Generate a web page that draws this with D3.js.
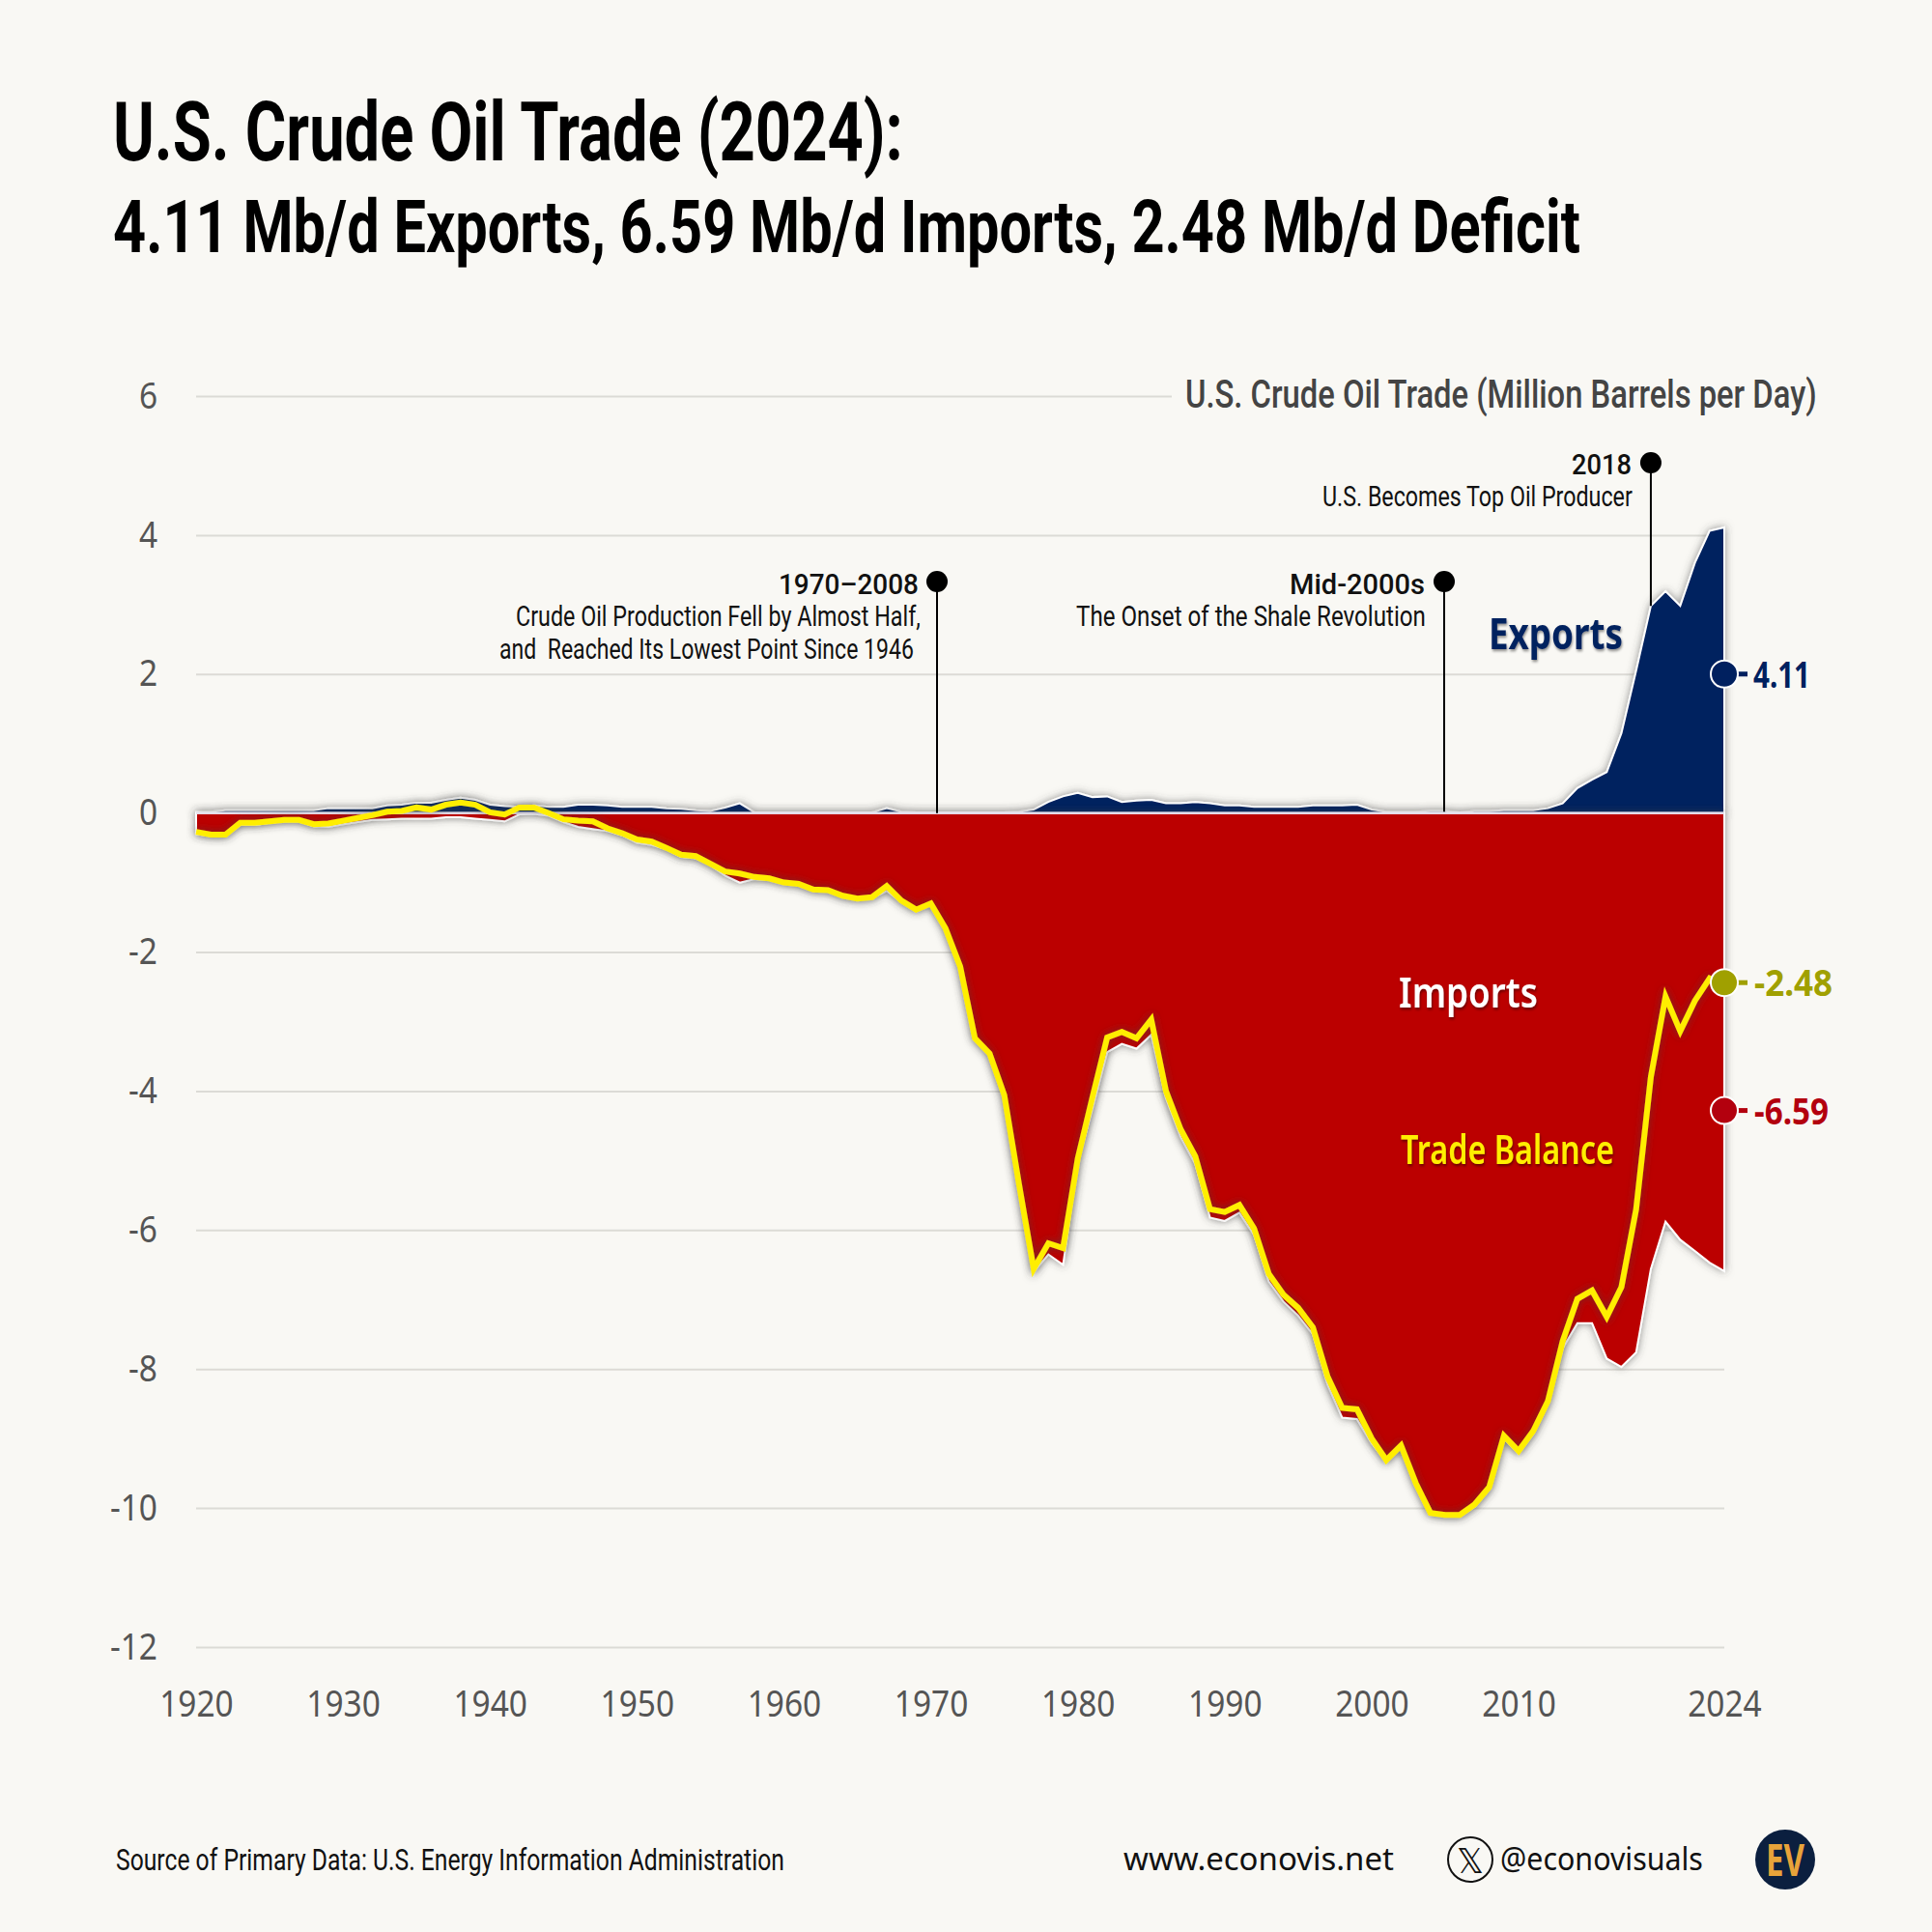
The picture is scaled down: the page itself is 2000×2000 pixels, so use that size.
<!DOCTYPE html>
<html>
<head>
<meta charset="utf-8">
<script src="https://cdn.jsdelivr.net/npm/d3@7"></script>
<style>
  html, body { margin: 0; padding: 0; background: #f9f8f4; }
  svg { display: block; }
</style>
</head>
<body>
<div id="chart"></div>
<script>
// Values (million barrels per day)
var years = d3.range(1920, 2025);
var exportsVals = [
  .02,.02,.04,.04,.04,.04,.04,.04,.04,.07,
  .07,.07,.07,.11,.12,.15,.15,.19,.22,.19,
  .12,.10,.09,.11,.09,.09,.12,.12,.11,.09,
  .09,.09,.07,.06,.04,.03,.08,.14,.01,.01,
  .01,.01,.01,.01,.01,.01,.01,.07,.02,.01,
  .01,.01,.01,.01,.01,.01,.02,.05,.16,.24,
  .29,.23,.24,.16,.18,.19,.14,.14,.16,.14,
  .11,.11,.09,.09,.09,.09,.11,.11,.11,.12,
  .05,.02,.02,.02,.03,.03,.01,.03,.03,.04,
  .04,.04,.07,.14,.36,.48,.59,1.15,2.05,2.98,
  3.19,2.98,3.6,4.06,4.11
];
var importsVals = [
  -.30,-.33,-.33,-.17,-.17,-.14,-.12,-.12,-.19,-.20,
  -.16,-.13,-.10,-.09,-.08,-.08,-.08,-.06,-.06,-.08,
  -.10,-.12,-.02,-.01,-.04,-.13,-.20,-.23,-.26,-.32,
  -.43,-.46,-.52,-.63,-.65,-.75,-.90,-1.00,-.95,-.96,
  -1.01,-1.04,-1.12,-1.13,-1.21,-1.24,-1.22,-1.12,-1.28,-1.40,
  -1.31,-1.67,-2.22,-3.25,-3.48,-4.10,-5.37,-6.60,-6.35,-6.50,
  -5.03,-4.25,-3.44,-3.32,-3.39,-3.19,-4.10,-4.66,-5.05,-5.82,
  -5.87,-5.75,-6.07,-6.74,-7.03,-7.23,-7.5,-8.22,-8.70,-8.72,
  -9.07,-9.33,-9.13,-9.66,-10.09,-10.12,-10.12,-9.98,-9.73,-9.00,
  -9.21,-8.93,-8.49,-7.7,-7.34,-7.34,-7.85,-7.97,-7.76,-6.56,
  -5.88,-6.14,-6.30,-6.47,-6.59
];
var balanceVals = [
  -.27,-.31,-.31,-.14,-.14,-.12,-.10,-.10,-.16,-.15,
  -.11,-.07,-.03,.02,.03,.08,.05,.12,.15,.12,
  .01,-.02,.08,.08,0,-.09,-.11,-.12,-.22,-.29,
  -.38,-.41,-.50,-.60,-.62,-.73,-.84,-.87,-.92,-.94,
  -1.0,-1.02,-1.10,-1.11,-1.19,-1.23,-1.21,-1.05,-1.26,-1.39,
  -1.30,-1.66,-2.21,-3.24,-3.46,-4.06,-5.34,-6.56,-6.19,-6.26,
  -4.97,-4.09,-3.23,-3.15,-3.24,-2.97,-4.0,-4.55,-4.94,-5.70,
  -5.74,-5.64,-5.98,-6.63,-6.93,-7.12,-7.4,-8.11,-8.56,-8.58,
  -9.0,-9.31,-9.10,-9.64,-10.07,-10.10,-10.10,-9.95,-9.70,-8.96,
  -9.18,-8.89,-8.46,-7.6,-6.99,-6.87,-7.25,-6.82,-5.7,-3.8,
  -2.64,-3.14,-2.70,-2.38,-2.48
];
var yTicks = [6, 4, 2, 0, -2, -4, -6, -8, -10, -12];
var xTicks = [1920, 1930, 1940, 1950, 1960, 1970, 1980, 1990, 2000, 2010, 2024];

var navy = "#00205f", red = "#bb0000", yellow = "#ffee00", olive = "#a0a000";
var narrow = "'Roboto', sans-serif";
var body = "'Noto Sans', 'Open Sans', sans-serif";

var svg = d3.select("#chart").append("svg").attr("width", 2000).attr("height", 2000);
svg.append("rect").attr("width", 2000).attr("height", 2000).attr("fill", "#f9f8f4");

var defs = svg.append("defs");
var glow = defs.append("filter").attr("id", "shadow")
  .attr("x", "-5%").attr("y", "-5%").attr("width", "110%").attr("height", "110%");
glow.append("feDropShadow").attr("dx", 0).attr("dy", 0).attr("stdDeviation", 4)
  .attr("flood-color", "#444").attr("flood-opacity", 0.6);
var textGlow = defs.append("filter").attr("id", "textShadow");
textGlow.append("feDropShadow").attr("dx", 1).attr("dy", 2).attr("stdDeviation", 1.5)
  .attr("flood-color", "#000").attr("flood-opacity", 0.45);

var x = d3.scaleLinear().domain([1920, 2024]).range([203, 1785]);
var y = d3.scaleLinear().domain([6, -12]).range([410, 1705]);

// text helper, squeezes horizontally to the measured width of the reference
function label(txt, left, right, base, size, opts) {
  opts = opts || {};
  var t = svg.append("text")
    .attr("font-family", opts.font || narrow)
    .attr("font-size", size)
    .attr("font-weight", opts.weight || 400)
    .attr("fill", opts.fill || "#111")
    .attr("xml:space", "preserve")
    .text(txt);
  var sx = (right - left) / t.node().getComputedTextLength();
  t.attr("transform", "translate(" + left + "," + base + ") scale(" + sx + ",1)");
  if (opts.filter) t.attr("filter", opts.filter);
  return t;
}

// grid and axes
var yAxis = d3.axisLeft(y).tickValues(yTicks).tickFormat(d => String(d)).tickSize(0).tickPadding(0);
var yg = svg.append("g").attr("transform", "translate(163,0)").call(yAxis);
yg.select(".domain").remove();
yg.selectAll("text").attr("font-family", body).attr("font-size", 38).attr("fill", "#555")
  .attr("transform", "scale(0.88,1)");

var grid = d3.axisLeft(y).tickValues(yTicks).tickSize(-(x.range()[1] - x.range()[0])).tickFormat("");
var gg = svg.append("g").attr("transform", "translate(203,0)").call(grid);
gg.select(".domain").remove();
gg.selectAll("line").attr("stroke", "#dcdbd6").attr("stroke-width", 2);
gg.selectAll(".tick").filter(d => d === 6).select("line").attr("x2", 1010);

var xAxis = d3.axisBottom(x).tickValues(xTicks).tickFormat(d3.format("d")).tickSize(0).tickPadding(0);
var xg = svg.append("g").attr("transform", "translate(0,1750)").call(xAxis);
xg.select(".domain").remove();
xg.selectAll("text").attr("font-family", body).attr("font-size", 38).attr("fill", "#555")
  .attr("transform", "scale(0.88,1)");

// areas
var valueArea = d3.area().x((d, i) => x(years[i])).y0(y(0)).y1(d => y(d));
svg.append("path").datum(exportsVals).attr("d", valueArea)
  .attr("fill", navy).attr("stroke", "#fff").attr("stroke-width", 2).attr("filter", "url(#shadow)");
svg.append("path").datum(importsVals).attr("d", valueArea)
  .attr("fill", red).attr("stroke", "#fff").attr("stroke-width", 2).attr("filter", "url(#shadow)");
svg.append("line").attr("x1", x(1920)).attr("x2", x(2024)).attr("y1", y(0)).attr("y2", y(0))
  .attr("stroke", "#e4e0ee").attr("stroke-width", 2);

var balanceLine = d3.line().x((d, i) => x(years[i])).y(d => y(d));
svg.append("path").datum(balanceVals).attr("d", balanceLine)
  .attr("fill", "none").attr("stroke", yellow).attr("stroke-width", 6)
  .attr("stroke-linejoin", "miter").attr("filter", "url(#shadow)");

// title
label("U.S. Crude Oil Trade (2024):", 117, 935, 166, 86, { weight: 700, fill: "#000" });
label("4.11 Mb/d Exports, 6.59 Mb/d Imports, 2.48 Mb/d Deficit", 117, 1636, 261, 76, { weight: 700, fill: "#000" });
label("U.S. Crude Oil Trade (Million Barrels per Day)", 1227, 1881, 422, 40, { fill: "#444", weight: 500 });

// annotations
function pin(px, dotY, endY) {
  svg.append("line").attr("x1", px).attr("x2", px).attr("y1", dotY).attr("y2", endY)
    .attr("stroke", "#000").attr("stroke-width", 2);
  svg.append("circle").attr("cx", px).attr("cy", dotY).attr("r", 11).attr("fill", "#000");
}
pin(x(2019), 479, y(2.98));
pin(970, 602, y(0));
pin(1495, 602, y(0.02));

label("2018", 1627, 1689, 491, 30, { weight: 500 });
label("U.S. Becomes Top Oil Producer", 1369, 1690, 524, 29);
label("1970–2008", 806, 951, 615, 30, { weight: 500 });
label("Crude Oil Production Fell by Almost Half,", 534, 953, 648, 29);
label("and  Reached Its Lowest Point Since 1946", 517, 946, 682, 29);
label("Mid-2000s", 1335, 1475, 615, 30, { weight: 500 });
label("The Onset of the Shale Revolution", 1114, 1476, 648, 29);

// series names
label("Exports", 1541, 1680, 672, 44, { font: body, weight: 700, fill: navy, filter: "url(#textShadow)" });
label("Imports", 1448, 1592, 1043, 44, { font: body, weight: 600, fill: "#fff", filter: "url(#textShadow)" });
label("Trade Balance", 1450, 1671, 1205, 42, { font: body, weight: 600, fill: yellow, filter: "url(#textShadow)" });

// end value callouts
function callout(txt, dotVal, col, left, right) {
  var cy = y(dotVal);
  svg.append("line").attr("x1", x(2024)).attr("x2", 1809).attr("y1", cy).attr("y2", cy)
    .attr("stroke", col).attr("stroke-width", 5);
  svg.append("circle").attr("cx", x(2024)).attr("cy", cy).attr("r", 14)
    .attr("fill", col).attr("stroke", "#fff").attr("stroke-width", 2);
  label(txt, left, right, cy + 14, 38, { font: body, weight: 700, fill: col });
}
callout("4.11", 2, navy, 1815, 1874);
callout("-2.48", balanceVals[104] + 0.04, olive, 1816, 1897);
callout("-6.59", -4.28, "#b3000e", 1816, 1893);

// footer
label("Source of Primary Data: U.S. Energy Information Administration", 120, 812, 1936, 31);
label("www.econovis.net", 1163, 1443, 1936, 33, { font: body });
svg.append("circle").attr("cx", 1522).attr("cy", 1925).attr("r", 23)
  .attr("fill", "none").attr("stroke", "#111").attr("stroke-width", 2);
label("𝕏", 1508, 1536, 1939, 36, { font: "'DejaVu Sans', sans-serif" });
label("@econovisuals", 1553, 1763, 1936, 33, { font: body });
svg.append("circle").attr("cx", 1848).attr("cy", 1925).attr("r", 31).attr("fill", "#0b1f3f");
label("EV", 1828, 1868, 1942, 46, { font: body, weight: 700, fill: "#e8a33a" });
</script>
</body>
</html>
